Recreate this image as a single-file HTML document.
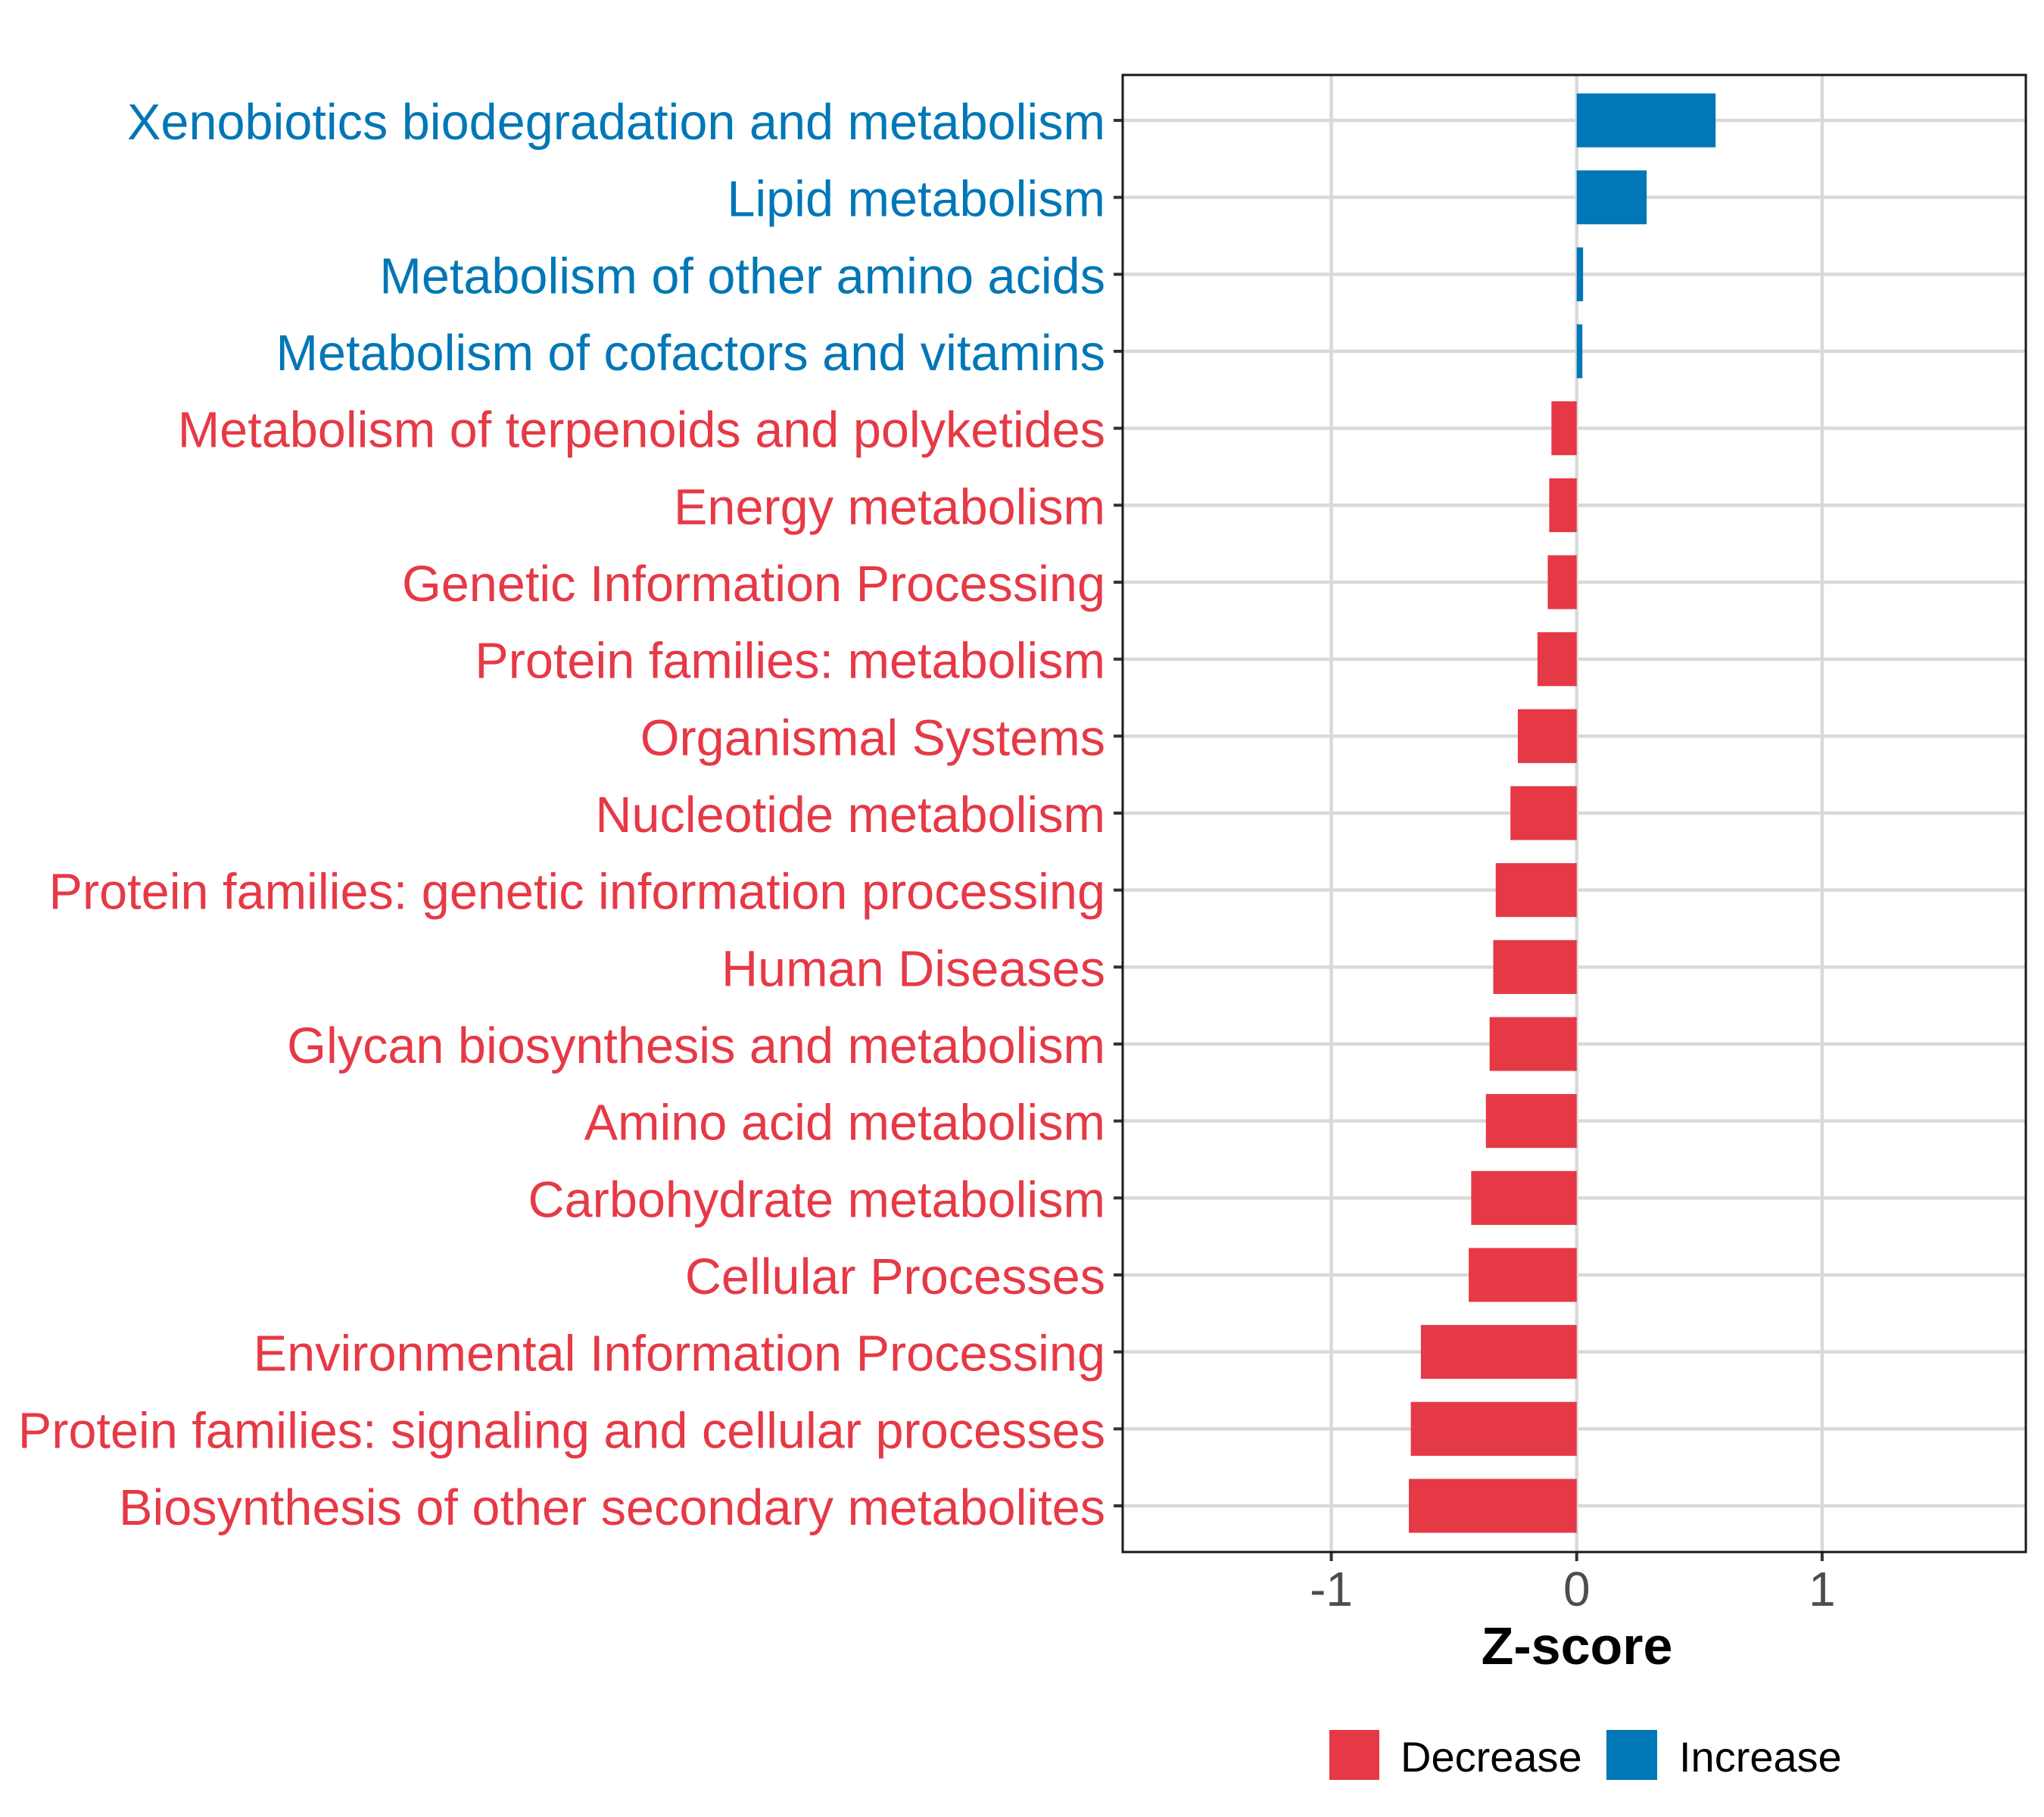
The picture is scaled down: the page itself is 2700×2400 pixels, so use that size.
<!DOCTYPE html>
<html><head><meta charset="utf-8"><style>
html,body{margin:0;padding:0;background:#fff;}
svg{display:block;font-family:"Liberation Sans",Arial,sans-serif;}
</style></head><body>
<svg id="chart" width="2700" height="2400" viewBox="0 0 2700 2400">
<rect x="0" y="0" width="2700" height="2400" fill="#fff"/>
<g id="grid"></g><g id="bars"></g><g id="ylabels"></g><g id="xaxis"></g>
<rect x="1483" y="99" width="1193" height="1951" fill="none" stroke="#1a1a1a" stroke-width="3"/>
<text x="2083" y="2198" text-anchor="middle" font-size="70" font-weight="bold" fill="#000">Z-score</text>
<g>
<rect x="1756" y="2285" width="66" height="66" fill="#E63946"/>
<text x="1850" y="2340" font-size="56" fill="#000">Decrease</text>
<rect x="2122" y="2285" width="67" height="66" fill="#0077B6"/>
<text x="2218" y="2340" font-size="56" fill="#000">Increase</text>
</g>
</svg>
<script>
const categories = ["Xenobiotics biodegradation and metabolism","Lipid metabolism","Metabolism of other amino acids","Metabolism of cofactors and vitamins","Metabolism of terpenoids and polyketides","Energy metabolism","Genetic Information Processing","Protein families: metabolism","Organismal Systems","Nucleotide metabolism","Protein families: genetic information processing","Human Diseases","Glycan biosynthesis and metabolism","Amino acid metabolism","Carbohydrate metabolism","Cellular Processes","Environmental Information Processing","Protein families: signaling and cellular processes","Biosynthesis of other secondary metabolites"];
const zscores = [0.566,0.285,0.026,0.023,-0.103,-0.112,-0.118,-0.16,-0.24,-0.27,-0.33,-0.34,-0.355,-0.37,-0.43,-0.44,-0.635,-0.676,-0.684];
const xTicks = [-1,0,1];
const xTickLabels = ["-1","0","1"];

const NS="http://www.w3.org/2000/svg";
const X0=1483,X1=2676,DMIN=-1.85,DMAX=1.83;
const x=v=>X0+(v-DMIN)/(DMAX-DMIN)*(X1-X0);
const Y0=159,STEP=(1989-159)/18;
const y=i=>Y0+i*STEP;
const BH=STEP*0.7;
function mk(tag,parent,attrs){const e=document.createElementNS(NS,tag);for(const k in attrs)e.setAttribute(k,attrs[k]);parent.appendChild(e);return e;}
const grid=document.getElementById('grid'),bars=document.getElementById('bars'),yl=document.getElementById('ylabels'),xa=document.getElementById('xaxis');
mk('rect',grid,{x:X0,y:99,width:X1-X0,height:1951,fill:'#fff'});
xTicks.forEach((t,i)=>{
  const g=mk('line',grid,{x1:x(t),x2:x(t),y1:99,y2:2050,stroke:'#d9d9d9','stroke-width':4.5});
  
  
  const tk=mk('line',xa,{x1:x(t),x2:x(t),y1:2050,y2:2062,stroke:'#333','stroke-width':4});
  
  
  const tl=mk('text',xa,{x:x(t),y:2121,'text-anchor':'middle','font-size':64,fill:'#4d4d4d'});
  tl.textContent=xTickLabels[i];
  
  
});
categories.forEach((c,i)=>{
  const gl=mk('line',grid,{x1:X0,x2:X1,y1:y(i),y2:y(i),stroke:'#d9d9d9','stroke-width':4.5});
  
  
  const v=zscores[i];
  const col=v>=0?'#0077B6':'#E63946';
  const b=mk('rect',bars,{x:Math.min(x(0),x(v)),y:y(i)-BH/2,width:Math.abs(x(v)-x(0)),height:BH,fill:col});
  
  
  const tk=mk('line',yl,{x1:1471,x2:1483,y1:y(i),y2:y(i),stroke:'#333','stroke-width':4});
  
  
  const t=mk('text',yl,{x:1460,y:y(i)+25,'text-anchor':'end','font-size':66.6,fill:col});
  t.textContent=c;
  
  
});
</script>
</body></html>
